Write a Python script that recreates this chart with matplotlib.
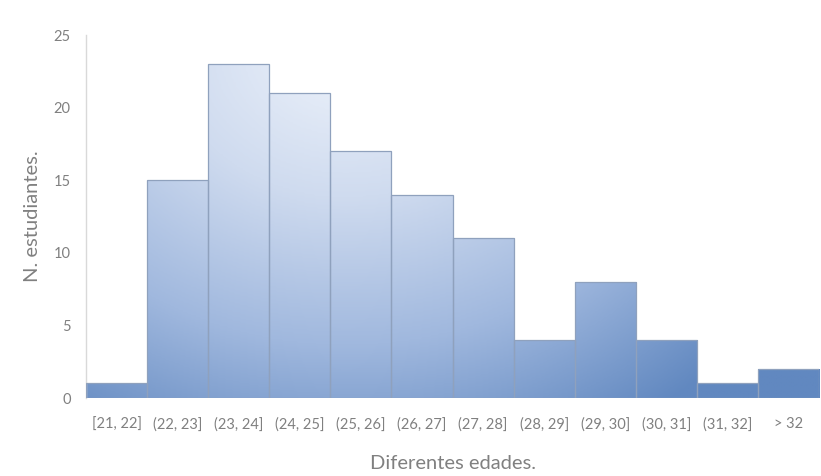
import numpy as np
import matplotlib
matplotlib.use('Agg')
import matplotlib.pyplot as plt
from matplotlib.colors import LinearSegmentedColormap

plt.rcParams['font.family'] = ['Lato', 'DejaVu Sans']

# age groups and number of students in each one
edades = ['[21, 22]', '(22, 23]', '(23, 24]', '(24, 25]', '(25, 26]', '(26, 27]',
          '(27, 28]', '(28, 29]', '(29, 30]', '(30, 31]', '(31, 32]', '> 32']
estudiantes = [1, 15, 23, 21, 17, 14, 11, 4, 8, 4, 1, 2]
yticks = [0, 5, 10, 15, 20, 25]

GRAY = '#808080'

fig = plt.figure(figsize=(8.21, 4.76), dpi=100)
ax = fig.add_axes([86 / 821, 78 / 476, 733 / 821, 363 / 476])

x = np.arange(len(edades))
bars = ax.bar(x, estudiantes, width=1.0, facecolor='none',
              edgecolor='#8fa1bd', linewidth=0.9, zorder=3)

ax.set_xlim(-0.5, len(edades) - 0.5)
ax.set_ylim(0, 25)

# radial fill shared by all bars: light near the top, darker towards the edges
w_px, h_px = 733, 363
gx, gy = np.meshgrid(np.linspace(0, w_px, 400), np.linspace(h_px, 0, 200))
cx, cy = 260, 350
d = np.sqrt(((gx - cx) / 560) ** 2 + ((gy - cy) / 470) ** 2)
d = np.clip(d / 0.95, 0, 1)
cmap = LinearSegmentedColormap.from_list(
    'fill', ['#eef3fb', '#cfdbef', '#a0b8de', '#6188c0'])
for b in bars:
    im = ax.imshow(d, cmap=cmap, vmin=0, vmax=1, aspect='auto',
                   extent=(-0.5, len(edades) - 0.5, 0, 25), origin='upper',
                   interpolation='bilinear', zorder=2)
    im.set_clip_path(b)

for s in ['top', 'right', 'bottom']:
    ax.spines[s].set_visible(False)
ax.spines['left'].set_color('#d9d9d9')
ax.spines['left'].set_linewidth(1.0)

ax.set_xticks(x)
ax.set_xticklabels(edades)
ax.set_yticks(yticks)
ax.tick_params(axis='both', length=0, colors=GRAY, labelsize=10.5)
ax.tick_params(axis='x', pad=14)
ax.tick_params(axis='y', pad=11)

ax.set_xlabel('Diferentes edades.', color=GRAY, fontsize=14.5, labelpad=17)
ax.set_ylabel('N. estudiantes.', color=GRAY, fontsize=14.5, labelpad=9)

fig.savefig('out.png', dpi=100, facecolor='white')
